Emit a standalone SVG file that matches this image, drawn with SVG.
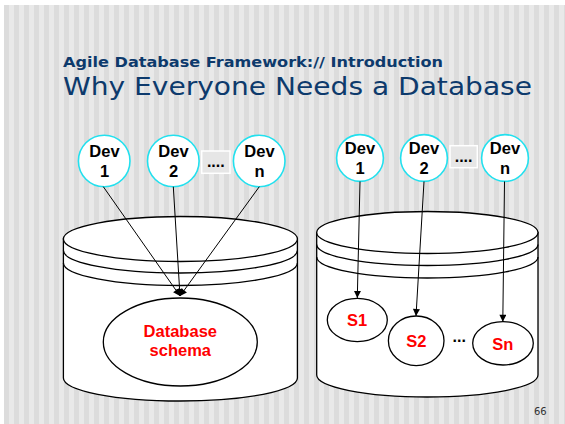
<svg xmlns="http://www.w3.org/2000/svg" width="565" height="424" viewBox="0 0 565 424">
  <defs>
    <pattern id="stripes" x="4" y="0" width="10" height="10" patternUnits="userSpaceOnUse">
      <rect x="0" y="0" width="5" height="10" fill="#dcdcdc"/>
      <rect x="5" y="0" width="5" height="10" fill="#e9e9e9"/>
    </pattern>
    <marker id="arrow" viewBox="0 0 10 10" refX="10" refY="5" markerUnits="userSpaceOnUse" markerWidth="8" markerHeight="7" orient="auto">
      <path d="M0,0 L10,5 L0,10 Z" fill="#000"/>
    </marker>
    <style>
      .sub { font-family: "DejaVu Sans", Verdana, sans-serif; font-weight: bold; font-size: 14.5px; fill: #0d3a6c; }
      .title { font-family: "DejaVu Sans", Verdana, sans-serif; font-size: 24px; fill: #0d3a6c; }
      .cyl { fill: #fff; stroke: #000; stroke-width: 1.3; }
      .band { fill: none; stroke: #000; stroke-width: 1.3; }
      .dev { fill: #fff; stroke: #22e0ee; stroke-width: 1.6; }
      .devtxt { font-family: "Liberation Sans", Arial, sans-serif; font-weight: bold; font-size: 16.5px; fill: #000; text-anchor: middle; }
      .dots { fill: #e6e6e6; stroke: #fff; stroke-width: 1.5; }
      .dottxt { font-family: "Liberation Sans", Arial, sans-serif; font-weight: bold; font-size: 16px; fill: #000; text-anchor: middle; }
      .schema { fill: #fff; stroke: #000; stroke-width: 1.3; }
      .red { font-family: "Liberation Sans", Arial, sans-serif; font-weight: bold; font-size: 16.5px; fill: #ff0000; text-anchor: middle; }
      .conn { stroke: #000; stroke-width: 1; fill: none; marker-end: url(#arrow); }
      .page { font-family: "DejaVu Sans", Verdana, sans-serif; font-size: 10px; fill: #333; }
    </style>
  </defs>

  <!-- slide background -->
  <rect x="0" y="0" width="565" height="424" fill="#fff"/>
  <rect x="4" y="5" width="561" height="419" fill="url(#stripes)"/>

  <!-- headings -->
  <g id="heading">
    <text class="sub" x="63" y="66.5" textLength="380" lengthAdjust="spacingAndGlyphs">Agile Database Framework:// Introduction</text>
    <text class="title" x="63" y="95" textLength="469" lengthAdjust="spacingAndGlyphs">Why Everyone Needs a Database</text>
  </g>

  <!-- shared database cylinder -->
  <g id="db-shared">
    <path class="cyl" d="M63.4,239 L63.4,378 A117,23 0 0 0 297.4,378 L297.4,239 Z"/>
    <ellipse class="cyl" cx="180.4" cy="239" rx="117" ry="22.5"/>
    <path class="band" d="M63.4,250.5 A117,22.5 0 0 0 297.4,250.5"/>
    <path class="band" d="M63.4,263 A117,22.5 0 0 0 297.4,263"/>
  </g>

  <!-- per-developer database cylinder -->
  <g id="db-separate">
    <path class="cyl" d="M316.7,232.5 L316.7,375 A110.65,22 0 0 0 538,375 L538,232.5 Z"/>
    <ellipse class="cyl" cx="427.35" cy="232.5" rx="110.65" ry="21"/>
    <path class="band" d="M316.7,244.5 A110.65,21 0 0 0 538,244.5"/>
    <path class="band" d="M316.7,257 A110.65,21 0 0 0 538,257"/>
  </g>

  <!-- shared schema -->
  <g id="schema">
    <ellipse class="schema" cx="180.3" cy="342" rx="77" ry="44"/>
    <text class="red" x="180.3" y="336.5">Database</text>
    <text class="red" x="180.3" y="356">schema</text>
  </g>

  <!-- separate schemas -->
  <g id="s1">
    <ellipse class="schema" cx="357.3" cy="320" rx="30" ry="21.7"/>
    <text class="red" x="357" y="325.5">S1</text>
  </g>
  <g id="s2">
    <ellipse class="schema" cx="416.2" cy="340.8" rx="27.8" ry="24.8"/>
    <text class="red" x="416.3" y="346.5">S2</text>
  </g>
  <g id="s-ellipsis">
    <text class="dottxt" x="459.2" y="342">...</text>
  </g>
  <g id="sn">
    <ellipse class="schema" cx="503" cy="343.3" rx="30.3" ry="21.7"/>
    <text class="red" x="502.7" y="349.5">Sn</text>
  </g>

  <!-- developers, shared side -->
  <g id="dev1-a">
    <circle class="dev" cx="104.2" cy="161" r="25.8"/>
    <text class="devtxt" x="104.5" y="157">Dev</text>
    <text class="devtxt" x="104.5" y="177">1</text>
  </g>
  <g id="dev2-a">
    <circle class="dev" cx="173.3" cy="161" r="25.8"/>
    <text class="devtxt" x="173.5" y="157">Dev</text>
    <text class="devtxt" x="173.5" y="177">2</text>
  </g>
  <g id="dev-more-a">
    <rect class="dots" x="201.7" y="151" width="28.3" height="22.3"/>
    <text class="dottxt" x="215.8" y="167.3">....</text>
  </g>
  <g id="devn-a">
    <circle class="dev" cx="259.2" cy="161" r="25.8"/>
    <text class="devtxt" x="259.5" y="157">Dev</text>
    <text class="devtxt" x="259.5" y="177">n</text>
  </g>

  <!-- developers, separate side -->
  <g id="dev1-b">
    <circle class="dev" cx="360" cy="158" r="23.4"/>
    <text class="devtxt" x="360" y="154">Dev</text>
    <text class="devtxt" x="360" y="173.5">1</text>
  </g>
  <g id="dev2-b">
    <circle class="dev" cx="424" cy="158" r="23.4"/>
    <text class="devtxt" x="424" y="154">Dev</text>
    <text class="devtxt" x="424" y="173.5">2</text>
  </g>
  <g id="dev-more-b">
    <rect class="dots" x="450" y="145.7" width="27.3" height="22"/>
    <text class="dottxt" x="463.6" y="162.3">....</text>
  </g>
  <g id="devn-b">
    <circle class="dev" cx="505" cy="158" r="23.4"/>
    <text class="devtxt" x="505" y="154">Dev</text>
    <text class="devtxt" x="505" y="173.5">n</text>
  </g>

  <!-- connectors -->
  <g id="connectors">
    <line class="conn" x1="103.3" y1="186.7" x2="180" y2="296"/>
    <line class="conn" x1="173.3" y1="186.7" x2="180" y2="296"/>
    <line class="conn" x1="259.3" y1="186.7" x2="180" y2="296"/>
    <line class="conn" x1="360" y1="181.5" x2="357.3" y2="298"/>
    <line class="conn" x1="424" y1="181.5" x2="416" y2="316"/>
    <line class="conn" x1="504.5" y1="181.5" x2="502.8" y2="321.7"/>
  </g>

  <!-- page number -->
  <text class="page" x="534" y="415">66</text>
</svg>
